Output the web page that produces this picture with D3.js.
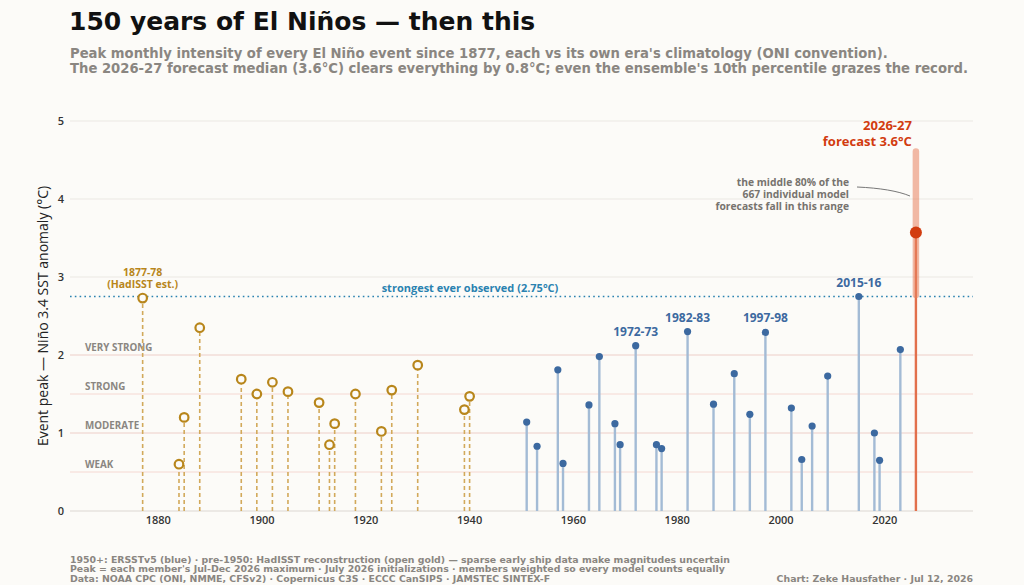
<!DOCTYPE html>
<html>
<head>
<meta charset="utf-8">
<script src="https://cdn.jsdelivr.net/npm/d3@7"></script>
<style>
  html, body { margin: 0; padding: 0; background: #fcfbf8; }
  svg { display: block; }
  .head { font-family: "DejaVu Sans", "Open Sans", sans-serif; }
  .chart { font-family: "Open Sans", "DejaVu Sans", sans-serif; }
</style>
</head>
<body>
<div id="chart"></div>
<script>
// pre-1950 events (HadISST reconstruction), start year of each event
const goldYears = [1877, 1884, 1885, 1888, 1896, 1899, 1902, 1905, 1911, 1913, 1914, 1918, 1923, 1925, 1930, 1939, 1940];
const goldPeaks = [2.73, 0.60, 1.20, 2.35, 1.69, 1.50, 1.65, 1.53, 1.39, 0.85, 1.12, 1.50, 1.02, 1.55, 1.87, 1.30, 1.47];

// 1950+ events (ERSSTv5)
const blueYears = [1951, 1953, 1957, 1958, 1963, 1965, 1968, 1969, 1972, 1976, 1977, 1982, 1987, 1991, 1994, 1997, 2002, 2004, 2006, 2009, 2015, 2018, 2019, 2023];
const bluePeaks = [1.14, 0.83, 1.81, 0.61, 1.36, 1.98, 1.12, 0.85, 2.12, 0.85, 0.80, 2.30, 1.37, 1.76, 1.24, 2.29, 1.32, 0.66, 1.09, 1.73, 2.75, 1.00, 0.65, 2.07];

const labelledYears = [1877, 1972, 1982, 1997, 2015];
const labelledNames = [['1877-78', '(HadISST est.)'], ['1972-73'], ['1982-83'], ['1997-98'], ['2015-16']];

// 2026-27 forecast ensemble
const forecastYear = 2026;
const forecastMedian = 3.57;
const forecastP10 = 2.77;
const forecastP90 = 4.61;

const record = 2.75;
const thresholds = [0.5, 1, 1.5, 2];
const thresholdNames = ['WEAK', 'MODERATE', 'STRONG', 'VERY STRONG'];
const yTicks = [0, 1, 2, 3, 4, 5];
const xTicks = [1880, 1900, 1920, 1940, 1960, 1980, 2000, 2020];

const width = 1024,
	height = 585;

const gold = '#b8861b',
	goldStem = '#d2a95a',
	blue = '#3c69a0',
	blueStem = '#a3bbd5',
	red = '#d23c0f',
	teal = '#2a82b0',
	grey = '#8a8681';

const x = d3.scaleLinear().domain([1863, 2037]).range([70, 973]);
const y = d3.scaleLinear().domain([0, 5]).range([511, 121]);

const svg = d3.select('#chart')
	.append('svg')
	.attr('width', width)
	.attr('height', height)
	.style('background', '#fcfbf8');

// title block
svg.append('text')
	.attr('class', 'head')
	.attr('x', 69).attr('y', 30)
	.style('font-size', '25px').style('font-weight', 700).style('fill', '#111')
	.text('150 years of El Niños — then this');

const subtitle = [
	'Peak monthly intensity of every El Niño event since 1877, each vs its own era\'s climatology (ONI convention).',
	'The 2026-27 forecast median (3.6°C) clears everything by 0.8°C; even the ensemble\'s 10th percentile grazes the record.'
];
svg.append('g').selectAll('text')
	.data(subtitle)
	.enter().append('text')
	.attr('class', 'head')
	.attr('x', 70)
	.attr('y', function(d, i) { return 57.5 + i * 15; })
	.style('font-size', '13.2px').style('font-weight', 700).style('fill', grey)
	.text(function(d) { return d; });

const plot = svg.append('g').attr('class', 'chart');

// grid
plot.selectAll('.grid')
	.data(yTicks)
	.enter().append('line')
	.attr('x1', x.range()[0]).attr('x2', x.range()[1])
	.attr('y1', function(d) { return y(d); }).attr('y2', function(d) { return y(d); })
	.style('stroke', '#ebe8e3').style('stroke-width', 1);

// intensity thresholds
plot.selectAll('.thr')
	.data(thresholds)
	.enter().append('line')
	.attr('x1', x.range()[0]).attr('x2', x.range()[1])
	.attr('y1', function(d) { return y(d); }).attr('y2', function(d) { return y(d); })
	.style('stroke', '#f5d8d2').style('stroke-width', 1);

plot.selectAll('.thrlab')
	.data(thresholds)
	.enter().append('text')
	.attr('x', 85)
	.attr('y', function(d) { return y(d) - 4; })
	.style('font-size', '9.8px').style('font-weight', 700).style('fill', grey)
	.text(function(d, i) { return thresholdNames[i]; });

// y axis
plot.selectAll('.ytick')
	.data(yTicks)
	.enter().append('text')
	.attr('x', 64)
	.attr('y', function(d) { return y(d); })
	.attr('dy', '0.35em')
	.attr('text-anchor', 'end')
	.style('font-size', '11px').style('font-weight', 600).style('fill', '#333')
	.text(function(d) { return d; });

plot.append('text')
	.attr('transform', 'translate(48,' + y(2.5) + ') rotate(-90)')
	.attr('text-anchor', 'middle')
	.style('font-size', '14px').style('fill', '#222')
	.text('Event peak — Niño 3.4 SST anomaly (°C)');

// x axis
plot.append('line')
	.attr('x1', x.range()[0]).attr('x2', x.range()[1])
	.attr('y1', y(0)).attr('y2', y(0))
	.style('stroke', '#e4e1dc');

plot.selectAll('.xtick')
	.data(xTicks)
	.enter().append('text')
	.attr('x', function(d) { return x(d); })
	.attr('y', y(0) + 13)
	.attr('text-anchor', 'middle')
	.style('font-size', '11px').style('font-weight', 600).style('fill', '#333')
	.text(function(d) { return d; });

// record line
plot.append('line')
	.attr('x1', x.range()[0]).attr('x2', x.range()[1])
	.attr('y1', y(record)).attr('y2', y(record))
	.style('stroke', teal).style('stroke-width', 1.6)
	.style('stroke-dasharray', '1.6,3.2');

plot.append('text')
	.attr('x', 470).attr('y', y(record) - 5)
	.attr('text-anchor', 'middle')
	.style('font-size', '11px').style('font-weight', 700).style('fill', teal)
	.text('strongest ever observed (2.75°C)');

// gold (reconstruction) lollipops
const goldData = goldYears.map(function(d, i) { return { year: d, peak: goldPeaks[i] }; });
plot.selectAll('.gstem')
	.data(goldData)
	.enter().append('line')
	.attr('x1', function(d) { return x(d.year); }).attr('x2', function(d) { return x(d.year); })
	.attr('y1', y(0)).attr('y2', function(d) { return y(d.peak) + 5; })
	.style('stroke', goldStem).style('stroke-width', 1.6)
	.style('stroke-dasharray', '4,3');

plot.selectAll('.gdot')
	.data(goldData)
	.enter().append('circle')
	.attr('cx', function(d) { return x(d.year); })
	.attr('cy', function(d) { return y(d.peak); })
	.attr('r', 4.3)
	.style('fill', '#fcfbf8').style('stroke', gold).style('stroke-width', 2.2);

// blue (observed) lollipops
const blueData = blueYears.map(function(d, i) { return { year: d, peak: bluePeaks[i] }; });
plot.selectAll('.bstem')
	.data(blueData)
	.enter().append('line')
	.attr('x1', function(d) { return x(d.year); }).attr('x2', function(d) { return x(d.year); })
	.attr('y1', y(0)).attr('y2', function(d) { return y(d.peak); })
	.style('stroke', blueStem).style('stroke-width', 2.4);

plot.selectAll('.bdot')
	.data(blueData)
	.enter().append('circle')
	.attr('cx', function(d) { return x(d.year); })
	.attr('cy', function(d) { return y(d.peak); })
	.attr('r', 3.6)
	.style('fill', blue);

// event labels
const allPeaks = {};
goldData.concat(blueData).forEach(function(d) { allPeaks[d.year] = d.peak; });
labelledYears.forEach(function(yr, i) {
	const lines = labelledNames[i];
	const col = yr < 1950 ? gold : blue;
	const t = plot.append('text')
		.attr('x', x(yr))
		.attr('y', y(allPeaks[yr]) - 10 - (lines.length - 1) * 12)
		.attr('text-anchor', 'middle')
		.style('font-size', lines.length > 1 ? '10.5px' : '12px').style('font-weight', 700).style('fill', col);
	lines.forEach(function(l, j) {
		t.append('tspan').attr('x', x(yr)).attr('dy', j === 0 ? 0 : 12).text(l);
	});
});

// forecast
const fx = x(forecastYear);
plot.append('line')
	.attr('x1', fx).attr('x2', fx)
	.attr('y1', y(0)).attr('y2', y(forecastMedian))
	.style('stroke', '#e2704c').style('stroke-width', 2.4);

plot.append('line')
	.attr('x1', fx).attr('x2', fx)
	.attr('y1', y(forecastP10)).attr('y2', y(forecastP90))
	.attr('stroke-linecap', 'round')
	.style('stroke', '#e8825f').style('stroke-opacity', 0.55).style('stroke-width', 6.5);

plot.append('circle')
	.attr('cx', fx).attr('cy', y(forecastMedian))
	.attr('r', 6)
	.style('fill', red);

const fl = plot.append('text')
	.attr('x', fx - 4).attr('y', 130)
	.attr('text-anchor', 'end')
	.style('font-size', '13px').style('font-weight', 700).style('fill', red);
fl.append('tspan').attr('x', fx - 4).text('2026-27');
fl.append('tspan').attr('x', fx - 4).attr('dy', 16).text('forecast 3.6°C');

const note = ['the middle 80% of the', '667 individual model', 'forecasts fall in this range'];
plot.append('g').selectAll('text')
	.data(note)
	.enter().append('text')
	.attr('x', 849)
	.attr('y', function(d, i) { return 186 + i * 12.2; })
	.attr('text-anchor', 'end')
	.style('font-size', '10.3px').style('font-weight', 700).style('fill', '#77736e')
	.text(function(d) { return d; });

plot.append('path')
	.attr('d', 'M857,187 C880,188 898,191 910,196')
	.style('fill', 'none').style('stroke', '#777').style('stroke-width', 1);

// footer
const footer = [
	'1950+: ERSSTv5 (blue) · pre-1950: HadISST reconstruction (open gold) — sparse early ship data make magnitudes uncertain',
	'Peak = each member\'s Jul-Dec 2026 maximum · July 2026 initializations · members weighted so every model counts equally',
	'Data: NOAA CPC (ONI, NMME, CFSv2) · Copernicus C3S · ECCC CanSIPS · JAMSTEC SINTEX-F'
];
svg.append('g').selectAll('text')
	.data(footer)
	.enter().append('text')
	.attr('class', 'head')
	.attr('x', 70)
	.attr('y', function(d, i) { return 562.5 + i * 9.8; })
	.style('font-size', '9.4px').style('font-weight', 700).style('fill', grey)
	.text(function(d) { return d; });

svg.append('text')
	.attr('class', 'head')
	.attr('x', 973).attr('y', 582.1)
	.attr('text-anchor', 'end')
	.style('font-size', '9.4px').style('font-weight', 700).style('fill', grey)
	.text('Chart: Zeke Hausfather · Jul 12, 2026');
</script>
</body>
</html>
